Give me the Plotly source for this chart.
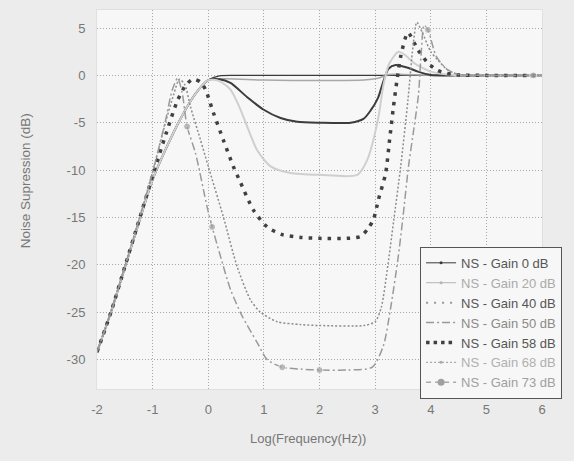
import plotly.graph_objects as go

# ---------------- data ----------------
names = ["NS - Gain 0 dB", "NS - Gain 20 dB", "NS - Gain 40 dB", "NS - Gain 50 dB",
         "NS - Gain 58 dB", "NS - Gain 68 dB", "NS - Gain 73 dB"]

x_ticks = [-2, -1, 0, 1, 2, 3, 4, 5, 6]
x_tick_text = ["-2", "-1", "0", "1", "2", "3", "4", "5", "6"]
y_ticks = [-30, -25, -20, -15, -10, -5, 0, 5]
y_tick_text = ["-30", "-25", "-20", "-15", "-10", "-5", "0", "5"]

g0_x = [-2, -1.75, -1.5, -1.25, -1, -0.75, -0.5, -0.25, 0, 0.2, 0.5, 1, 2, 3, 4, 5, 6]
g0_y = [-29.2, -25, -20.3, -15.6, -11, -7.6, -4.6, -2.1, -0.5, -0.05, 0, 0, 0, 0, 0, 0, 0]

g20_x = [-2, -1.75, -1.5, -1.25, -1, -0.75, -0.5, -0.25, 0, 0.3, 1, 2, 2.8, 3.05, 3.25, 3.5, 4, 5, 6]
g20_y = [-29.2, -25, -20.3, -15.6, -11, -7.6, -4.6, -2.1, -0.5, -0.35, -0.5, -0.55, -0.5, -0.3, 0.1, 0.1, 0, 0, 0]

g40_x = [-2, -1.75, -1.5, -1.25, -1, -0.75, -0.5, -0.25, 0, 0.2, 0.4, 0.7, 0.99, 1.3, 1.6, 2, 2.56,
         2.79, 2.92, 3.05, 3.15, 3.24, 3.37, 3.59, 3.77, 4.0, 4.5, 5, 6]
g40_y = [-29.2, -25, -20.3, -15.6, -11, -7.6, -4.6, -2.1, -0.5, -0.4, -0.8, -2.3, -3.6, -4.5, -4.9, -5.0, -5.0,
         -4.6, -3.7, -2.4, -0.6, 0.7, 1.1, 0.8, 0.4, 0.05, 0, 0, 0]

g50_x = [-2, -1.75, -1.5, -1.25, -1, -0.75, -0.5, -0.25, 0, 0.2, 0.4, 0.55, 0.7, 0.88, 1.12, 1.48, 2,
         2.68, 2.86, 3.05, 3.15, 3.25, 3.42, 3.55, 3.7, 4.0, 4.3, 5, 6]
g50_y = [-29.2, -25, -20.3, -15.6, -11, -7.6, -4.6, -2.1, -0.5, -0.6, -1.5, -3.2, -5.4, -7.9, -9.6, -10.3, -10.5,
         -10.5, -8.9, -4.7, -1.0, 1.2, 2.5, 2.1, 1.3, 0.4, 0.1, 0, 0]

g58_x = [-2, -1.75, -1.5, -1.25, -1, -0.75, -0.55, -0.4, -0.27, -0.14, -0.05, 0.09, 0.27, 0.45, 0.58, 0.81,
         1.06, 1.33, 1.66, 2, 2.5, 2.74, 2.88, 2.97, 3.06, 3.19, 3.26, 3.33, 3.4, 3.46, 3.59, 3.77, 3.95,
         4.13, 4.4, 5, 6]
g58_y = [-29.2, -25, -20.2, -15.4, -10.6, -6.0, -2.6, -1.0, -0.4, -0.7, -1.5, -3.9, -6.8, -9.6, -11.3, -14.2,
         -16, -16.8, -17.1, -17.2, -17.2, -17, -16.1, -15.2, -13.1, -10.3, -6.8, -3.3, -0.2, 2, 4.5, 2.7, 1.3,
         0.5, 0.1, 0, 0]

g68_x = [-2, -1.75, -1.5, -1.25, -1, -0.77, -0.62, -0.52, -0.42, -0.32, -0.14, 0, 0.27, 0.52, 0.76, 0.94,
         1.24, 1.66, 2, 2.8, 3.0, 3.11, 3.23, 3.33, 3.46, 3.59, 3.68, 3.75, 3.85, 4.0, 4.13, 4.3, 4.5, 5, 6]
g68_y = [-29.2, -25, -20.2, -15.3, -10.2, -5, -2, -0.4, -1.0, -3.3, -6.8, -9.6, -14.9, -20.2, -23.7, -25,
         -26, -26.3, -26.4, -26.4, -26, -24.5, -20, -15.5, -9.6, -2.6, 3, 5.6, 4.5, 2.5, 1.6, 0.6, 0.1, 0, 0]

g73_x = [-2, -1.75, -1.5, -1.25, -1, -0.77, -0.65, -0.55, -0.47, -0.38, -0.23, -0.02, 0.07, 0.22, 0.4, 0.61,
         0.88, 1.06, 1.33, 1.66, 2, 2.5, 2.95, 3.15, 3.28, 3.41, 3.5, 3.6, 3.7, 3.78, 3.83, 3.88, 3.95, 4.1,
         4.3, 4.5, 5, 5.84, 6]
g73_y = [-29.2, -25, -20.2, -15.3, -10.2, -4.8, -1.6, -0.3, -1.8, -5.4, -8.2, -13.9, -16, -19.1, -22.6, -25.4,
         -28.2, -30, -30.8, -31.0, -31.1, -31.1, -30.8, -28.5, -24.5, -19.4, -15.0, -9.6, -5.5, -2.0, 2.5, 5.3,
         4.8, 2.0, 0.6, 0.1, 0, 0, 0]
g73_marker_x = [-0.38, 0.07, 1.33, 2, 3.95, 5.84]

series_x = [g0_x, g20_x, g40_x, g50_x, g58_x, g68_x, g73_x]
series_y = [g0_y, g20_y, g40_y, g50_y, g58_y, g68_y, g73_y]

# ---------------- styles ----------------
curve_styles = [
    dict(color="#3a3a3a", width=1.2, dash="solid"),
    dict(color="#a8a8a8", width=1.5, dash="solid"),
    dict(color="#3c3c3c", width=2.0, dash="solid"),
    dict(color="#cfcfcf", width=2.0, dash="solid"),
    dict(color="#404040", width=3.5, dash="3.5px,6px"),
    dict(color="#8c8c8c", width=1.5, dash="2px,2px"),
    dict(color="#9a9a9a", width=1.5, dash="8px,3px,2px,3px"),
]
legend_styles = [
    (dict(color="#3a3a3a", width=1, dash="solid"), dict(size=3, color="#3a3a3a")),
    (dict(color="#b5b5b5", width=1, dash="solid"), dict(size=3, color="#b5b5b5")),
    (dict(color="#999999", width=2, dash="2px,6px"), None),
    (dict(color="#999999", width=1.5, dash="8px,3px,2px,3px"), None),
    (dict(color="#404040", width=3.5, dash="3.5px,4px"), None),
    (dict(color="#aaaaaa", width=1.2, dash="2px,2px"), dict(size=3, color="#aaaaaa")),
    (dict(color="#aaaaaa", width=1.5, dash="5px,4px"), dict(size=7, color="#a0a0a0")),
]
text_colors = ["#555555", "#aaaaaa", "#555555", "#8a8a8a", "#555555", "#b0b0b0", "#a0a0a0"]

fig = go.Figure()

# drawn curves
for i in range(len(names)):
    fig.add_trace(go.Scatter(
        x=series_x[i], y=series_y[i], mode="lines",
        line=dict(shape="spline", smoothing=0.7, **curve_styles[i]),
        showlegend=False, hoverinfo="skip"))

# Gain 73 circle markers placed on points of its own series
m_sizes = [7 if xv in g73_marker_x else 0 for xv in g73_x]
fig.add_trace(go.Scatter(
    x=g73_x, y=g73_y, mode="markers",
    marker=dict(size=m_sizes, color="#a0a0a0"),
    showlegend=False, hoverinfo="skip"))

# legend entries
for i in range(len(names)):
    ln, mk = legend_styles[i]
    fig.add_trace(go.Scatter(
        x=[None], y=[None], mode="lines+markers" if mk else "lines",
        line=ln, marker=mk if mk else None,
        name="<span style='color:%s'>%s</span>" % (text_colors[i], names[i])))

font_family = "Liberation Sans, Arial, sans-serif"
grid_style = dict(showgrid=True, gridcolor="#a8a8a8", griddash="1px,2px", gridwidth=1,
                  zeroline=False, showline=True, linecolor="#e0e0e0", mirror=True,
                  ticks="", ticklabelstandoff=8, tickfont=dict(size=13, color="#777777"))
fig.update_layout(
    width=574, height=461,
    margin=dict(l=97, r=32, t=10, b=72, autoexpand=False),
    paper_bgcolor="#ececec", plot_bgcolor="#f7f7f7",
    font=dict(family=font_family, size=13, color="#777777"),
    showlegend=True,
    legend=dict(x=0.726, y=0.375, xanchor="left", yanchor="top",
                bgcolor="#f7f7f7", bordercolor="#555555", borderwidth=1,
                font=dict(size=13, color="#555555"), tracegroupgap=0),
    xaxis=dict(range=[-2, 6], tickvals=x_ticks, ticktext=x_tick_text, **grid_style),
    yaxis=dict(range=[-33.1, 6.9], tickvals=y_ticks, ticktext=y_tick_text, **grid_style),
    annotations=[
        dict(text="Log(Frequency(Hz))", xref="paper", yref="paper", x=0.475, y=-0.13,
             xanchor="center", yanchor="middle", showarrow=False,
             font=dict(size=13, color="#777777")),
        dict(text="Noise Supression (dB)", xref="paper", yref="paper", x=-0.16, y=0.55,
             xanchor="center", yanchor="middle", showarrow=False, textangle=-90,
             font=dict(size=13.5, color="#777777")),
    ],
)

fig.write_html("out.html", config={"displayModeBar": False},
               post_script="document.body.style.margin='0';document.body.style.background='#ececec';")
